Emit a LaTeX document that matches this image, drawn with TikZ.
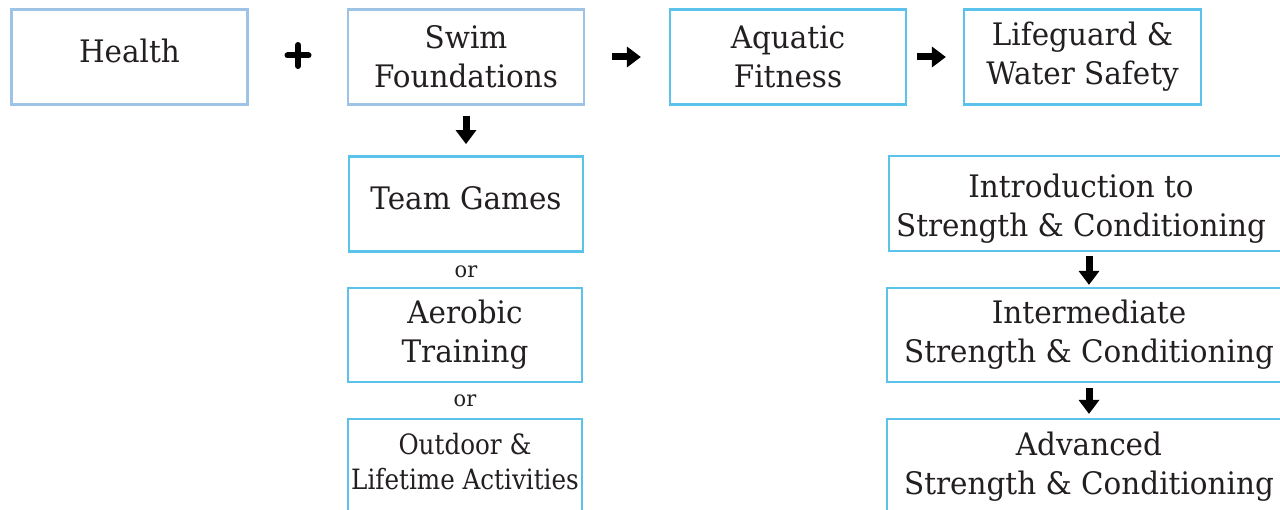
\documentclass[tikz,border=0pt]{standalone}
\usepackage{fontspec}
\setmainfont{DejaVu Serif}[FakeStretch=0.95]
\newfontfamily\condfont{DejaVu Serif}[FakeStretch=0.88]
\usetikzlibrary{arrows.meta,calc}
\definecolor{txt}{HTML}{231F20}
\definecolor{paleblue}{HTML}{9DC3E6}
\definecolor{skyblue}{HTML}{5BC2EC}
\begin{document}
\begin{tikzpicture}[x=1pt,y=-1pt,
  box/.style={draw=skyblue, line width=2.8pt, minimum width=236pt, minimum height=95pt,
    inner sep=0pt, align=center, text=txt, font=\fontsize{31}{39}\selectfont},
  palebox/.style={box, draw=paleblue},
  oneline/.style={text height=22pt, text depth=10pt},
  boxtext/.style={inner sep=0pt, align=center, text=txt, font=\fontsize{31}{39}\selectfont},
  blk/.style={draw=black, line width=7pt, -{Triangle[width=20pt,length=14pt]}},
  ortext/.style={inner sep=0pt, text=txt, font=\fontsize{22}{26}\selectfont}
]
\useasboundingbox (0,0) rectangle (1280,510);
\clip (0,0) rectangle (1280,510);

% top row
\node[palebox, oneline, minimum width=236pt] (health) at (129.5,57) {Health};
\node[palebox] (swim) at (466,57) {Swim\\Foundations};
\node[box] (aqua) at (788,57) {Aquatic\\Fitness};
\node[box, minimum width=237pt] (life) at (1082.5,57) {Lifeguard \&\\Water Safety};

% plus sign
\coordinate (plus) at (298,55.5);
\draw[line width=6pt, line cap=round] ($(plus)+(-10.5,0)$) -- ($(plus)+(10.5,0)$);
\draw[line width=6pt, line cap=round] ($(plus)+(0,-10.5)$) -- ($(plus)+(0,10.5)$);

% left column
\node[box, oneline, minimum width=234pt] (team) at (466,204) {Team Games};
\node[ortext] (or1) at (466,272) {or};
\node[box, minimum width=234pt, minimum height=94pt] (aero) at (465,335) {Aerobic\\Training};
\node[ortext] (or2) at (465,401) {or};
\node[box, minimum width=234pt] (outd) at (465,466.5) {};
\node[boxtext, font=\condfont\fontsize{28}{35}\selectfont] (outdtxt) at (465,461.5) {Outdoor \&\\Lifetime Activities};

% right column
\node[box, minimum width=400pt, minimum height=95pt] (intro) at (1089,203.5) {};
\node[boxtext] (introtxt) at (1081,209) {Introduction to\\Strength \& Conditioning};
\node[box, minimum width=404pt, minimum height=94pt] (inter) at (1089,335) {Intermediate\\Strength \& Conditioning};
\node[box, minimum width=404pt, minimum height=95pt] (adv) at (1089,466.5) {Advanced\\Strength \& Conditioning};

% arrows
\draw[blk, shorten <=10pt, shorten >=11pt] (swim) -- (team);
\draw[blk, shorten <=26.7pt, shorten >=27.7pt] (swim) -- (aqua);
\draw[blk, shorten <=9.7pt, shorten >=16.7pt] (aqua) -- (life);
\draw[blk, shorten <=3.7pt, shorten >=1.7pt] (intro) -- (inter);
\draw[blk, shorten <=4.7pt, shorten >=3.7pt] (inter) -- (adv);
\end{tikzpicture}
\end{document}
